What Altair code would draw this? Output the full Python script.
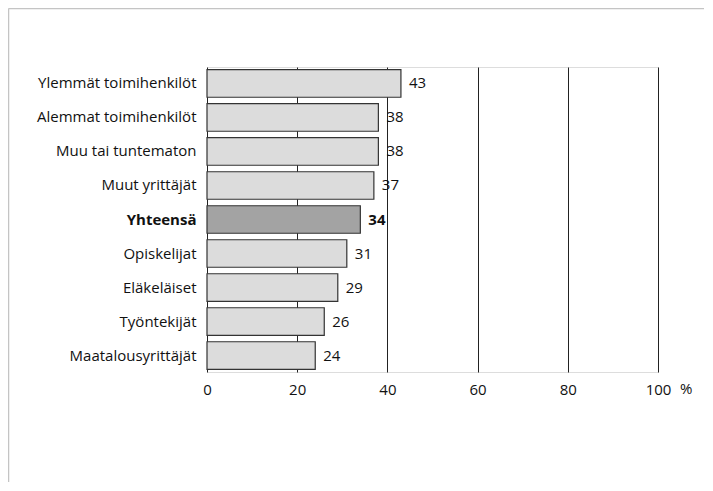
import altair as alt
import pandas as pd

categories = [
    "Ylemmät toimihenkilöt",
    "Alemmat toimihenkilöt",
    "Muu tai tuntematon",
    "Muut yrittäjät",
    "Yhteensä",
    "Opiskelijat",
    "Eläkeläiset",
    "Työntekijät",
    "Maatalousyrittäjät",
]
values = [43, 38, 38, 37, 34, 31, 29, 26, 24]
total_label = "Yhteensä"
x_ticks = [0, 20, 40, 60, 80, 100]

df = pd.DataFrame({"cat": categories, "val": values})
df["is_total"] = df["cat"] == total_label

W, H = 451, 305
FONT = "Open Sans"

y_enc = alt.Y(
    "cat:N",
    sort=categories,
    title=None,
    scale=alt.Scale(paddingInner=0.19, paddingOuter=0.08),
    axis=alt.Axis(
        ticks=False,
        domain=False,
        labelPadding=11,
        labelFont=FONT,
        labelFontSize=15,
        labelColor="#111",
        labelFontWeight={"condition": {"test": f"datum.value == '{total_label}'", "value": "bold"}, "value": "normal"},
    ),
)
x_enc = alt.X(
    "val:Q",
    title=None,
    scale=alt.Scale(domain=[0, 100], nice=False),
    axis=alt.Axis(
        values=x_ticks,
        ticks=False,
        domain=False,
        grid=True,
        gridColor="#222",
        gridOpacity=1,
        gridWidth=1,
        labelPadding=10,
        labelFlush=False,
        labelFont=FONT,
        labelFontSize=15,
        labelColor="#111",
    ),
)

base = alt.Chart(df)

bars = base.mark_bar(stroke="#333", strokeWidth=1.2).encode(
    y=y_enc,
    x=x_enc,
    color=alt.Color(
        "is_total:N",
        scale=alt.Scale(domain=[False, True], range=["#dcdcdc", "#a3a3a3"]),
        legend=None,
    ),
)

labels = base.transform_filter(alt.datum.cat != total_label).mark_text(
    align="left", baseline="middle", dx=8, font=FONT, fontSize=15, color="#111"
).encode(y=alt.Y("cat:N", sort=categories), x="val:Q", text="val:Q")

labels_bold = base.transform_filter(alt.datum.cat == total_label).mark_text(
    align="left", baseline="middle", dx=8, font=FONT, fontSize=15, fontWeight="bold", color="#111"
).encode(y=alt.Y("cat:N", sort=categories), x="val:Q", text="val:Q")

one = pd.DataFrame({"u": ["%"]})
pct = alt.Chart(one).mark_text(
    align="left", baseline="top", dx=22, dy=10, font=FONT, fontSize=15, color="#111"
).encode(x=alt.datum(100), y=alt.value(H), text="u:N")

frame_top = alt.Chart(one).mark_rule(color="#c4c4c4", strokeWidth=1.5).encode(
    x=alt.value(-198.5), x2=alt.value(W + 60), y=alt.value(-58.5)
)
frame_left = alt.Chart(one).mark_rule(color="#c4c4c4", strokeWidth=1.5).encode(
    x=alt.value(-198.5), y=alt.value(-58.5), y2=alt.value(H + 120)
)

chart = alt.layer(frame_top, frame_left, bars, labels, labels_bold, pct).properties(
    width=W,
    height=H,
    autosize=alt.AutoSizeParams(type="none"),
    padding={"left": 199, "top": 59, "right": 46, "bottom": 110},
).configure_view(stroke="#222", strokeWidth=1.2).configure(background="white")

chart.save("out.html", embed_options={"renderer": "svg", "actions": False})
